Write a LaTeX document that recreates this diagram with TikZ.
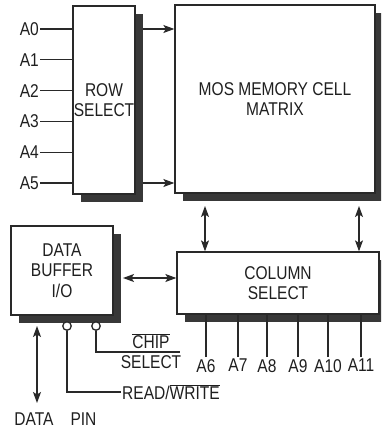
\documentclass[tikz,border=0pt]{standalone}
\usepackage{fontspec}
\setmainfont{Liberation Sans}[FakeStretch=0.84]
\usetikzlibrary{arrows.meta,shadows}
\definecolor{linec}{gray}{0.16}
\definecolor{shadowc}{gray}{0.22}
\definecolor{textc}{gray}{0.12}
\tikzset{
  lettering/.style={font=\fontsize{18.5}{20.4}\selectfont, text=textc},
  blockbox/.style={draw=linec, line width=1.3pt, fill=white, inner sep=0pt, align=center, lettering,
    drop shadow={shadow xshift=8pt, shadow yshift=-8pt, fill=shadowc, opacity=1}},
  lbl/.style={lettering, inner sep=1pt},
  conn/.style={draw=linec, line width=1.15pt},
  tip/.style={},
  arr/.style={conn, -{Stealth[length=11pt,width=8pt,inset=2.5pt]}},
  darr/.style={conn, {Stealth[length=11pt,width=8pt,inset=2.5pt]}-{Stealth[length=11pt,width=8pt,inset=2.5pt]}},
  pincirc/.style={circle, draw=linec, line width=1.3pt, fill=white, minimum size=8.5pt, inner sep=0pt}
}
\begin{document}
\begin{tikzpicture}[x=1pt,y=-1pt]
\useasboundingbox (0,0) rectangle (381,434);
\clip (0,0) rectangle (381,434);
\fill[white] (0,0) rectangle (381,434);

% blocks
\node[blockbox, minimum width=62pt, minimum height=188pt] (row) at (104,100) {ROW\\SELECT};
\node[blockbox, minimum width=200pt, minimum height=188pt] (mat) at (275,99) {MOS MEMORY CELL\\MATRIX};
\node[blockbox, minimum width=202pt, minimum height=62pt] (col) at (278,283) {COLUMN\\SELECT};
\node[blockbox, minimum width=102pt, minimum height=89pt] (buf) at (62,270.5) {DATA\\BUFFER\\I/O};

% row address lines
\foreach \i/\y in {0/29,1/59.8,2/90.6,3/121.4,4/152.2,5/183} {
  \node[lbl, anchor=east] (a\i) at (40,\y) {A\i};
  \draw[conn] (a\i.east) -- (row.west |- a\i.east);
}

% row select -> matrix
\coordinate (r0) at (143,29);
\coordinate (r5) at (143,183);
\draw[arr] (r0) -- (mat.west |- r0);
\draw[arr] (r5) -- (mat.west |- r5);

% matrix <-> column select
\coordinate (m1) at (205,206);
\coordinate (m2) at (359,206);
\draw[darr] (m1) -- (col.north -| m1);
\draw[darr] (m2) -- (col.north -| m2);

% buffer <-> column select
\coordinate (b1) at (123,278);
\draw[darr] (b1) -- (col.west |- b1);

% column address lines
\foreach \i/\x in {6/206,7/238,8/267,9/298,10/328,11/361} {
  \node[lbl, anchor=north, inner sep=2pt] (c\i) at (\x,357) {A\i};
  \draw[conn] (c\i.north) -- (c\i.north |- col.south);
}

% control pins
\node[pincirc] (p1) at (67,326) {};
\node[pincirc] (p2) at (96,326) {};
\node[lbl, anchor=west] (rw) at (121,392) {READ/$\overline{\mbox{WRITE}}$};
\node[lbl, align=center] (cs) at (151,351) {$\overline{\mbox{CHIP}}$\\SELECT};
\coordinate (csr) at (180,352);
\draw[conn] (p1.south) |- (rw.west);
\draw[conn] (p2.south) |- (csr);

% data pin
\coordinate (d1) at (37,326);
\coordinate (d2) at (37,403);
\draw[darr] (d1) -- (d2);
\node[lbl] (dl) at (34,419) {DATA};
\node[lbl] (pin) at (83.5,419) {PIN};
\end{tikzpicture}
\end{document}
